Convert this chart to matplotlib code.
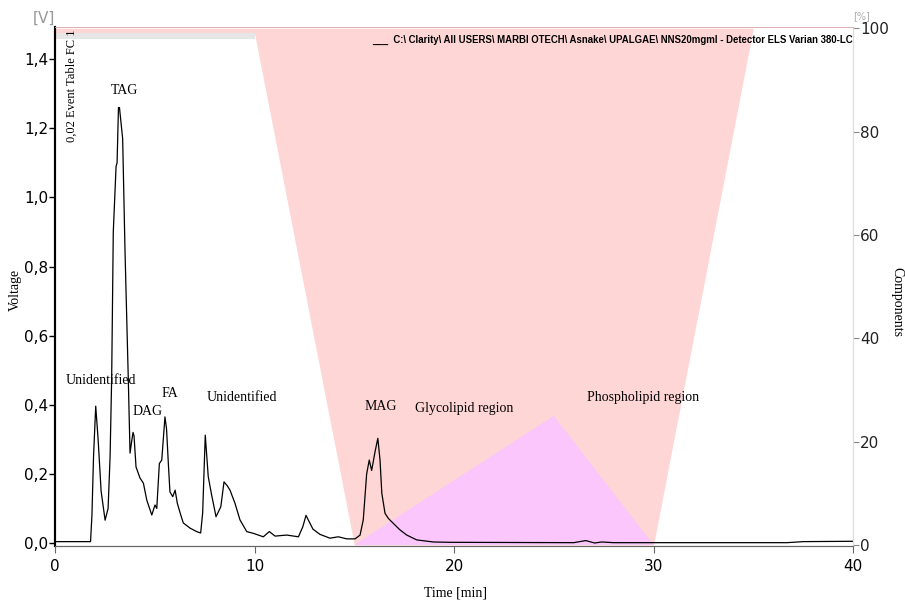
import numpy as np
import matplotlib.pyplot as plt
from matplotlib.ticker import FuncFormatter

# chromatogram trace
time_min = [0.0, 1.78, 1.85, 1.93, 2.04, 2.16, 2.31, 2.51, 2.66, 2.76, 2.84, 2.92,
            3.06, 3.11, 3.18, 3.23, 3.39, 3.51, 3.67, 3.76, 3.83, 3.91, 3.96, 4.06,
            4.26, 4.43, 4.60, 4.85, 5.01, 5.10, 5.23, 5.35, 5.51, 5.59, 5.68, 5.76,
            5.90, 6.02, 6.13, 6.27, 6.43, 6.77, 7.10, 7.30, 7.40, 7.53, 7.68, 7.85,
            8.07, 8.31, 8.47, 8.64, 8.77, 9.02, 9.27, 9.61, 9.94, 10.44, 10.74, 11.03,
            11.61, 12.20, 12.42, 12.58, 12.78, 12.93, 13.28, 13.78, 14.20, 14.62, 15.04,
            15.29, 15.45, 15.62, 15.75, 15.87, 15.95, 16.04, 16.18, 16.29, 16.38, 16.54,
            16.71, 17.04, 17.29, 17.63, 18.13, 18.96, 19.8, 26.0, 26.6, 27.05, 27.4,
            28.0, 36.7, 37.5, 40.0]
voltage = [0.004, 0.004, 0.08, 0.25, 0.396, 0.30, 0.15, 0.066, 0.10, 0.25, 0.48, 0.90,
           1.09, 1.10, 1.26, 1.26, 1.17, 0.84, 0.48, 0.26, 0.29, 0.32, 0.31, 0.22,
           0.188, 0.173, 0.124, 0.081, 0.11, 0.10, 0.23, 0.24, 0.365, 0.33, 0.23, 0.148,
           0.134, 0.153, 0.115, 0.087, 0.058, 0.043, 0.033, 0.029, 0.087, 0.312, 0.192, 0.139,
           0.076, 0.105, 0.177, 0.165, 0.153, 0.115, 0.067, 0.033, 0.028, 0.018, 0.033, 0.02,
           0.023, 0.018, 0.047, 0.08, 0.057, 0.04, 0.025, 0.014, 0.018, 0.012, 0.012,
           0.023, 0.067, 0.20, 0.24, 0.21, 0.235, 0.264, 0.303, 0.24, 0.144, 0.086,
           0.071, 0.052, 0.038, 0.023, 0.009, 0.003, 0.002, 0.001, 0.007, 0.0, 0.003,
           0.001, 0.001, 0.004, 0.005]

# gradient (event table) components, in %
grad_t = [0, 10, 15, 30, 35, 40]
grad_pct = [99, 99, 0, 0, 100, 100]
grey_t = [0, 10]
grey_lo = [98, 98]
grey_hi = [99, 99]
glyco_t = [15, 25, 30]
glyco_pct = [0, 25, 0]

labels = ["TAG", "Unidentified", "DAG", "FA", "Unidentified", "MAG",
          "Glycolipid region", "Phospholipid region"]
label_t = [3.46, 2.3, 4.66, 5.76, 9.35, 16.34, 20.5, 29.47]
label_v = [1.31, 0.47, 0.38, 0.434, 0.42, 0.396, 0.39, 0.42]

legend_text = ("___  C:\\ Clarity\\ All USERS\\ MARBI OTECH\\ Asnake\\ UPALGAE\\ "
               "NNS20mgml - Detector ELS Varian 380-LC")

fig = plt.figure(figsize=(9.05, 6.04), dpi=100)
ax = fig.add_axes([0.0608, 0.096, 0.8818, 0.859])
ax2 = ax.twinx()

# draw gradient on right axis, put it behind the trace
ax2.set_zorder(0)
ax.set_zorder(1)
ax.patch.set_visible(False)

ax2.fill_between(grad_t, grad_pct, 100, color='#ffd6d6', lw=0)
ax2.fill_between(grey_t, grey_lo, grey_hi, color='#e6e6e6', lw=0)
ax2.fill(glyco_t, glyco_pct, color='#fac6fb', lw=0)
ax2.set_ylim(-0.2, 100.2)
ax2.set_yticks([0, 20, 40, 60, 80, 100])
ax2.tick_params(axis='y', length=4, width=0.8, color='#888888',
                labelsize=11, labelcolor='#222222', pad=1)
ax2.text(1.0, 1.012, "[%]", transform=ax2.transAxes, fontsize=7, color='#aaaaaa',
         ha='left', va='bottom')

ax.plot(time_min, voltage, color='black', lw=0.9)
ax.set_xlim(0, 40)
ax.set_ylim(-0.0087, 1.4926)
ax.set_xticks([0, 10, 20, 30, 40])
ax.set_yticks([0, 0.2, 0.4, 0.6, 0.8, 1.0, 1.2, 1.4])
ax.yaxis.set_major_formatter(FuncFormatter(lambda v, p: f"{v:.1f}".replace('.', ',')))
ax.tick_params(axis='y', length=4, width=1, labelsize=11, pad=1)
ax.tick_params(axis='x', length=5, width=0.8, color='#666666', labelsize=11, pad=4)
ax.text(0.0, 1.003, "[V]", transform=ax.transAxes, fontsize=11, color='#999999',
        ha='right', va='bottom')

# axis titles placed in figure coords so they are not clipped
fig.text(0.503, 0.018, "Time [min]", family='Liberation Serif', fontsize=10,
         ha='center', va='center')
fig.text(0.017, 0.52, "Voltage", family='Liberation Serif', fontsize=10,
         rotation=90, ha='center', va='center')
fig.text(0.991, 0.50, "Components", family='Liberation Serif', fontsize=10,
         rotation=-90, ha='center', va='center')

for a in (ax, ax2):
    a.spines['left'].set_linewidth(1.5)
    a.spines['left'].set_color('black')
    a.spines['bottom'].set_color('#666666')
    a.spines['right'].set_color('#dddddd')
    a.spines['top'].set_color('#e0b0b0')
    a.spines['top'].set_linewidth(0.6)

for s, t, v in zip(labels, label_t, label_v):
    ax.text(t, v, s, family='Liberation Serif', fontsize=10, ha='center', va='center')

ax.text(0.55, 1.485, "0,02 Event Table FC 1", family='Liberation Serif', fontsize=9,
        rotation=90, ha='left', va='top')
ax.text(0.9995, 0.985, legend_text, transform=ax.transAxes, ha='right', va='top',
        fontsize=6.9, fontweight='bold', family='Liberation Sans')

fig.savefig("out.png", dpi=100)
